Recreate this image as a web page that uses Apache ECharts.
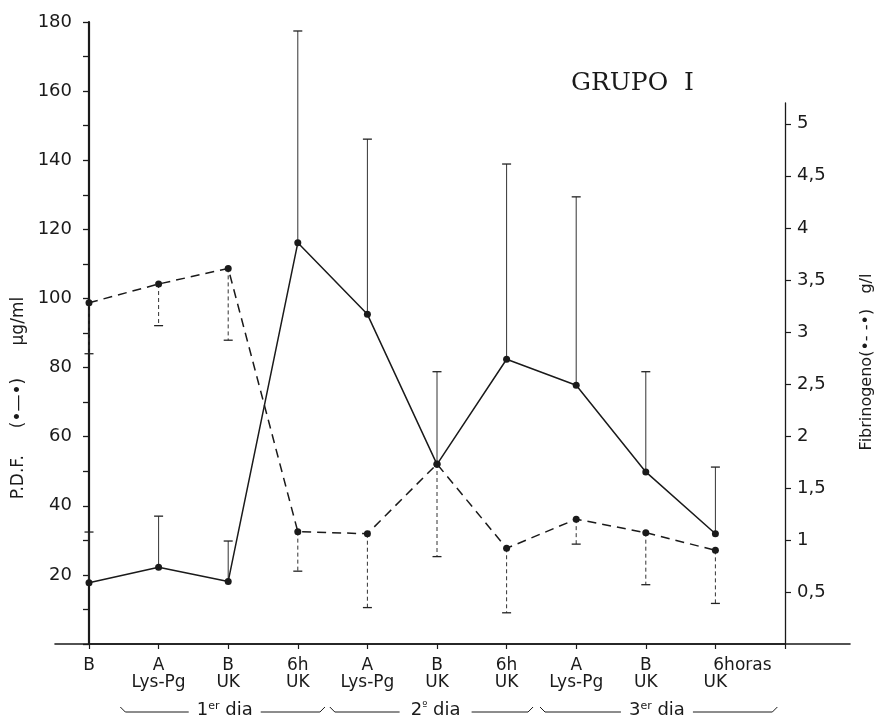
<!DOCTYPE html>
<html>
<head>
<meta charset="utf-8">
<script src="https://cdn.jsdelivr.net/npm/echarts@6/dist/echarts.min.js"></script>
<style>html,body{margin:0;padding:0;background:#fff}#c{width:889px;height:719px}</style>
</head>
<body>
<div id="c"></div>
<script>
// ---- data ----
const categories = ['B', 'A\nLys-Pg', 'B\nUK', '6h\nUK', 'A\nLys-Pg', 'B\nUK', '6h\nUK', 'A\nLys-Pg', 'B\nUK', '          6horas\nUK'];
const pdfMean  = [17.7, 22.2, 18.1, 116.1, 95.4, 52.0, 82.4, 74.9, 49.8, 31.9];
const pdfUpper = [32.4, 37.0, 29.8, 177.4, 146.1, 78.8, 138.9, 129.4, 78.8, 51.2];
const fibMean  = [3.28, 3.46, 3.61, 1.08, 1.06, 1.73, 0.92, 1.20, 1.07, 0.90];
const fibLower = [2.79, 3.06, 2.92, 0.70, 0.35, 0.84, 0.30, 0.96, 0.57, 0.39];
const leftTicks = [20, 40, 60, 80, 100, 120, 140, 160, 180];
const rightTicks = [0.5, 1, 1.5, 2, 2.5, 3, 3.5, 4, 4.5, 5];
const dayGroups = [
  {label: ['1', 'er', ' dia'], from: 0.45, to: 3.39, center: 1.95},
  {label: ['2', 'º', ' dia'], from: 3.46, to: 6.38, center: 4.98},
  {label: ['3', 'er', ' dia'], from: 6.48, to: 9.89, center: 8.16}
];

const INK = '#1a1a1a';
const FONT = 'DejaVu Sans';

const pdfLine = pdfMean.map((v, i) => [i, v]);
const pdfErr = pdfMean.map((v, i) => [i, v, pdfUpper[i]]);
const fibLine = fibMean.map((v, i) => [i, v]);
const fibErr = fibMean.map((v, i) => [i, v, fibLower[i]]);

function errRenderer(dash) {
  return function (params, api) {
    const x = api.value(0);
    const p1 = api.coord([x, api.value(1)]);
    const p2 = api.coord([x, api.value(2)]);
    return {
      type: 'group',
      children: [
        {type: 'line', shape: {x1: p1[0], y1: p1[1], x2: p2[0], y2: p2[1]},
         style: {stroke: '#333', lineWidth: 1, lineDash: dash}},
        {type: 'line', shape: {x1: p2[0] - 4.5, y1: p2[1], x2: p2[0] + 4.5, y2: p2[1]},
         style: {stroke: '#222', lineWidth: 1.3}}
      ]
    };
  };
}

const chart = echarts.init(document.getElementById('c'), null, {renderer: 'canvas'});

const option = {
  backgroundColor: '#ffffff',
  animation: false,
  grid: [
    {left: 89, right: 104, top: 22, bottom: 75},
    {left: 89, right: 104, top: 103, bottom: 75},
    {left: 55, right: 39, top: 22, bottom: 75}
  ],
  xAxis: [
    {
      type: 'value', gridIndex: 0, min: 0, max: 10, interval: 1,
      axisLine: {show: true, onZero: false, lineStyle: {color: INK, width: 1.6}},
      axisTick: {show: true, length: 5, lineStyle: {color: INK, width: 1.2}},
      axisLabel: {
        show: true, margin: 13, fontSize: 17, lineHeight: 17, color: INK, fontFamily: FONT,
        formatter: v => (categories[v] !== undefined ? categories[v] : '')
      },
      splitLine: {show: false}
    },
    {type: 'value', gridIndex: 1, min: 0, max: 10, show: false},
    {
      type: 'value', gridIndex: 2, min: 0, max: 1,
      axisLine: {show: true, onZero: false, lineStyle: {color: INK, width: 1.6}},
      axisTick: {show: false}, axisLabel: {show: false}, splitLine: {show: false}
    }
  ],
  yAxis: [
    {
      type: 'value', gridIndex: 0, min: 0, max: 180, interval: 10,
      axisLine: {show: true, onZero: false, lineStyle: {color: INK, width: 2.2}},
      axisTick: {show: true, length: 6, lineStyle: {color: INK, width: 1.3}},
      axisLabel: {
        show: true, margin: 17, fontSize: 18, color: INK, fontFamily: FONT,
        formatter: v => (leftTicks.indexOf(v) >= 0 ? String(v) : '')
      },
      splitLine: {show: false}
    },
    {
      type: 'value', gridIndex: 1, position: 'right', min: 0, max: 5.2, interval: 0.5,
      axisLine: {show: true, onZero: false, lineStyle: {color: INK, width: 1.3}},
      axisTick: {show: true, length: 6, customValues: rightTicks, lineStyle: {color: INK, width: 1.2}},
      axisLabel: {
        show: true, margin: 12, fontSize: 18, color: INK, fontFamily: FONT,
        customValues: rightTicks,
        formatter: v => String(v).replace('.', ',')
      },
      splitLine: {show: false}
    },
    {type: 'value', gridIndex: 2, min: 0, max: 1, show: false}
  ],
  series: [
    {
      type: 'custom', xAxisIndex: 0, yAxisIndex: 0, data: pdfErr, z: 1,
      renderItem: errRenderer(null), encode: {x: 0, y: [1, 2]}, silent: true
    },
    {
      type: 'custom', xAxisIndex: 1, yAxisIndex: 1, data: fibErr, z: 1,
      renderItem: errRenderer([4, 3]), encode: {x: 0, y: [1, 2]}, silent: true
    },
    {
      type: 'line', xAxisIndex: 0, yAxisIndex: 0, data: pdfLine, z: 3,
      symbol: 'circle', symbolSize: 7, itemStyle: {color: INK},
      lineStyle: {color: INK, width: 1.5}
    },
    {
      type: 'line', xAxisIndex: 1, yAxisIndex: 1, data: fibLine, z: 3,
      symbol: 'circle', symbolSize: 7, itemStyle: {color: INK},
      lineStyle: {color: INK, width: 1.5, type: [9, 6]}
    }
  ]
};
chart.setOption(option);

// annotations (axis titles, title, day brackets) placed via the axes
const graphics = [];
graphics.push({
  type: 'text', x: 571, y: 83,
  style: {text: 'GRUPO  I', fontSize: 25, fontFamily: 'DejaVu Serif', fill: INK, align: 'left', verticalAlign: 'middle'}
});
graphics.push({
  type: 'text', x: 19, y: 398, rotation: Math.PI / 2,
  style: {text: 'P.D.F.     (\u2022\u2014\u2022)      \u00b5g/ml', fontSize: 17, fontFamily: FONT, fill: INK, align: 'center', verticalAlign: 'middle'}
});
graphics.push({
  type: 'text', x: 867, y: 362, rotation: Math.PI / 2,
  style: {text: 'Fibrinogeno(\u2022- -\u2022)   g/l', fontSize: 16, fontFamily: FONT, fill: INK, align: 'center', verticalAlign: 'middle'}
});

const yB = 712;
dayGroups.forEach(g => {
  const x0 = chart.convertToPixel({xAxisIndex: 0}, g.from);
  const x1 = chart.convertToPixel({xAxisIndex: 0}, g.to);
  const xc = chart.convertToPixel({xAxisIndex: 0}, g.center);
  const halfW = 36;
  graphics.push({
    type: 'polyline', shape: {points: [[x0, yB - 5], [x0 + 5, yB], [xc - halfW, yB]]},
    style: {stroke: INK, lineWidth: 1, fill: null}
  });
  graphics.push({
    type: 'polyline', shape: {points: [[xc + halfW, yB], [x1 - 5, yB], [x1, yB - 5]]},
    style: {stroke: INK, lineWidth: 1, fill: null}
  });
  graphics.push({
    type: 'text', x: xc, y: yB - 2,
    style: {
      text: '{a|' + g.label[0] + '}{s|' + g.label[1] + '}{a|' + g.label[2] + '}',
      rich: {
        a: {fontSize: 18, fontFamily: FONT, fill: INK, color: INK},
        s: {fontSize: 11, fontFamily: FONT, fill: INK, color: INK, verticalAlign: 'top', padding: [0, 0, 6, 0]}
      },
      align: 'center', verticalAlign: 'middle'
    }
  });
});
chart.setOption({graphic: graphics});
</script>
</body>
</html>
